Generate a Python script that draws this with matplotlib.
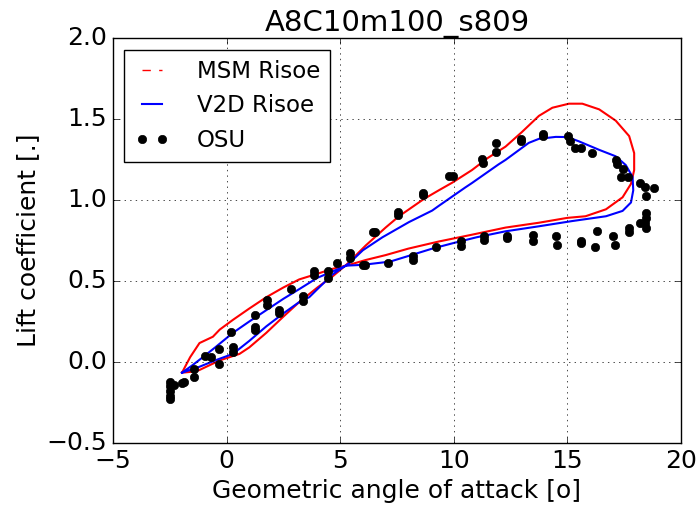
#!/usr/bin/env python3
import matplotlib
matplotlib.use("Agg")
import matplotlib.pyplot as plt

# MSM Risoe loop (angle of attack [deg], lift coefficient)
msm_alpha = [-1.96, -1.5, -1.2, -0.3, 0.57, 1.0, 1.75, 2.5, 3.2, 4.0, 4.68, 5.27,
             6.13, 7.0, 7.59, 8.68, 9.34, 9.93, 10.8, 11.5, 12.28, 13.0, 13.75,
             14.34, 15.07, 15.66, 16.4, 17.13, 17.72, 17.94, 17.94, 17.8, 17.43,
             16.7, 15.8, 15.0, 13.75, 12.28, 10.8, 9.34, 8.0, 7.0, 6.13, 5.4,
             4.66, 4.0, 3.2, 2.5, 1.75, 1.0, 0.28, -0.3, -0.6, -1.19, -1.6, -1.96]
msm_cl = [-0.066, -0.06, -0.05, 0.01, 0.05, 0.09, 0.18, 0.28, 0.37, 0.46, 0.53, 0.60,
          0.72, 0.83, 0.90, 1.006, 1.06, 1.107, 1.185, 1.26, 1.33, 1.42, 1.52,
          1.57, 1.595, 1.595, 1.56, 1.49, 1.395, 1.29, 1.185, 1.10, 1.017,
          0.943, 0.90, 0.89, 0.86, 0.83, 0.786, 0.744, 0.70, 0.66, 0.63, 0.60,
          0.575, 0.545, 0.51, 0.46, 0.40, 0.33, 0.26, 0.20, 0.156, 0.117, 0.03, -0.066]

# V2D Risoe loop
v2d_alpha = [-1.96, -1.2, -0.5, 0.28, 1.0, 1.75, 2.5, 3.2, 3.64, 4.0, 4.66, 5.4,
             6.0, 6.86, 8.03, 9.05, 9.34, 10.5, 10.8, 11.97, 12.28, 13.3, 13.75,
             14.49, 15.0, 15.5, 16.4, 17.13, 17.57, 17.87, 17.9, 17.8, 17.43,
             16.7, 15.2, 13.75, 12.28, 11.0, 10.0, 9.05, 8.36, 7.2, 6.0, 5.27,
             4.68, 4.0, 3.2, 2.5, 1.75, 1.0, 0.28, -0.5, -1.04, -1.5, -1.96]
v2d_cl = [-0.066, -0.03, 0.01, 0.05, 0.13, 0.22, 0.30, 0.37, 0.40, 0.45, 0.54, 0.61,
          0.69, 0.77, 0.864, 0.935, 0.964, 1.077, 1.105, 1.22, 1.248, 1.353, 1.378,
          1.39, 1.389, 1.363, 1.31, 1.27, 1.216, 1.143, 1.06, 0.985, 0.933,
          0.90, 0.87, 0.838, 0.807, 0.77, 0.735, 0.70, 0.67, 0.62, 0.60, 0.595,
          0.56, 0.52, 0.45, 0.39, 0.32, 0.25, 0.18, 0.09, 0.03, -0.02, -0.066]

# OSU measurements
osu_alpha = [-2.5, -2.5, -2.5, -2.5, -2.5, -2.3, -1.95, -1.85, -1.45, -1.45,
             -0.95, -0.7, -0.35, -0.35, 0.3, 0.3, 0.2, 1.25, 1.25, 1.25,
             1.8, 1.8, 2.3, 2.3, 2.85, 3.35, 3.35, 3.85, 3.85, 4.45,
             4.45, 4.85, 5.45, 5.45, 6.0, 6.1, 7.1, 8.2, 8.2, 9.2,
             10.3, 10.3, 11.35, 11.35, 6.45, 6.55, 7.55, 7.55, 8.65, 8.65,
             9.8, 9.95, 11.25, 11.3, 11.85, 11.85, 12.95, 12.95, 13.95, 13.95,
             15.05, 15.1, 15.35, 15.6, 16.1, 17.15, 17.2, 17.45, 17.35, 17.65,
             18.2, 18.4, 18.45, 18.8, 18.45, 18.45, 18.4, 18.2, 18.45, 17.7,
             17.7, 17.0, 17.1, 16.3, 16.2, 15.6, 15.6, 14.5, 14.55, 13.5,
             13.5, 12.35, 12.35]
osu_cl = [-0.125, -0.15, -0.18, -0.21, -0.23, -0.14, -0.13, -0.125, -0.045, -0.09,
          0.04, 0.03, 0.08, -0.01, 0.09, 0.06, 0.185, 0.29, 0.215, 0.195,
          0.38, 0.35, 0.32, 0.30, 0.45, 0.41, 0.375, 0.56, 0.535, 0.56,
          0.52, 0.61, 0.675, 0.64, 0.60, 0.60, 0.61, 0.655, 0.63, 0.71,
          0.745, 0.715, 0.775, 0.755, 0.80, 0.80, 0.925, 0.905, 1.045, 1.03,
          1.15, 1.15, 1.255, 1.23, 1.355, 1.295, 1.38, 1.365, 1.41, 1.395,
          1.395, 1.365, 1.32, 1.32, 1.29, 1.25, 1.225, 1.19, 1.145, 1.14,
          1.105, 1.08, 1.025, 1.075, 0.92, 0.89, 0.86, 0.86, 0.83, 0.83,
          0.80, 0.775, 0.725, 0.81, 0.71, 0.75, 0.735, 0.78, 0.725, 0.785,
          0.745, 0.78, 0.765]

plt.style.use('classic')
plt.rcParams['font.size'] = 18
plt.rcParams['figure.facecolor'] = 'white'
plt.rcParams['savefig.facecolor'] = 'white'

fig = plt.figure(figsize=(6.97, 5.08), dpi=100)
ax = fig.add_axes([0.162, 0.128, 0.815, 0.797])

ax.plot(msm_alpha, msm_cl, 'r-', linewidth=1.5)
ax.plot([], [], 'r--', label='MSM Risoe')
ax.plot(v2d_alpha, v2d_cl, 'b-', linewidth=1.5, label='V2D Risoe')
ax.plot(osu_alpha, osu_cl, 'ko', markersize=6, markeredgecolor='k', label='OSU')

ax.set_xlim(-5, 20)
ax.set_ylim(-0.5, 2.0)
ax.set_title('A8C10m100_s809', fontsize=21)
ax.set_xlabel('Geometric angle of attack [o]', fontsize=18)
ax.set_ylabel('Lift coefficient [.]', fontsize=18)
ax.grid(True)
ax.legend(loc='upper left', fontsize=16.5, handlelength=1.5, handletextpad=1.2,
          labelspacing=0.5, borderpad=0.45)

fig.savefig('out.png', dpi=100)
